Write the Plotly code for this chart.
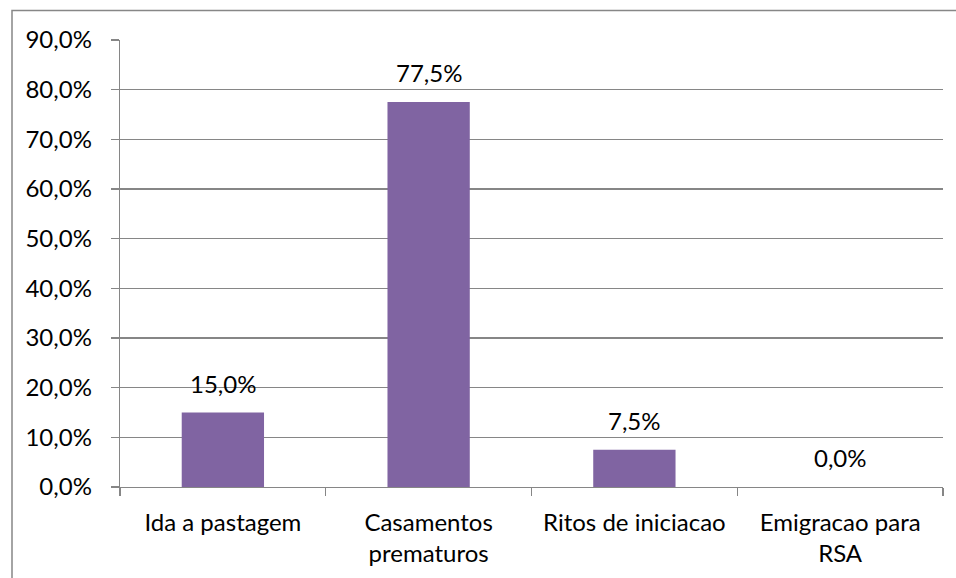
import plotly.graph_objects as go

categories = ["Ida a pastagem", "Casamentos<br>prematuros", "Ritos de iniciacao", "Emigracao para<br>RSA"]
values = [0.15, 0.775, 0.075, 0.0]
y_ticks = [0.0, 0.1, 0.2, 0.3, 0.4, 0.5, 0.6, 0.7, 0.8, 0.9]

FONT = "Lato"
FS = 24
GRID = "#868686"
W, H = 956, 578
L, R, T, B = 120, 13, 40, 91
pw, ph = W - L - R, H - T - B

fig = go.Figure()
fig.add_trace(go.Bar(
    x=categories, y=values, width=0.4,
    marker=dict(color="#8064A2", line=dict(width=0)),
    hoverinfo="skip",
))

for c, v in zip(categories, values):
    fig.add_annotation(
        x=c, y=v, xref="x", yref="y",
        text=f"{v*100:.1f}%".replace(".", ","),
        showarrow=False, yanchor="bottom", yshift=13,
        font=dict(family=FONT, size=FS, color="#000000"),
    )

# outer chart frame (extends beyond visible page)
fig.add_shape(
    type="rect", xref="paper", yref="paper",
    x0=(12 - L) / pw, x1=(W + 10 - L) / pw,
    y0=-(H + 20 - (T + ph)) / ph, y1=(T + ph - 10.5) / ph,
    line=dict(color="#878787", width=1.5), fillcolor="rgba(0,0,0,0)",
    layer="below",
)

fig.update_layout(
    width=W, height=H,
    margin=dict(l=L, r=R, t=T, b=B, pad=0),
    paper_bgcolor="white", plot_bgcolor="white",
    separators=",.",
    showlegend=False,
    font=dict(family=FONT, size=FS, color="#000000"),
    bargap=0.6,
)
fig.update_yaxes(
    range=[0, 0.9], tickvals=y_ticks, tickformat=".1%",
    showgrid=True, gridcolor=GRID, gridwidth=1.3,
    showline=True, linecolor=GRID, linewidth=1.3,
    ticks="outside", ticklen=8, tickcolor=GRID, tickwidth=1.3,
    ticklabelstandoff=14,
    zeroline=False,
    tickfont=dict(family=FONT, size=FS, color="#000000"),
)
fig.update_xaxes(
    showline=True, linecolor=GRID, linewidth=1.3,
    ticks="outside", tickson="boundaries", ticklen=8, tickcolor=GRID, tickwidth=1.3,
    ticklabelstandoff=14,
    tickfont=dict(family=FONT, size=FS, color="#000000"),
    showgrid=False,
)

fig.write_html(
    "out.html",
    config={"displayModeBar": False, "staticPlot": True},
    post_script="document.body.style.margin='0px';",
)
